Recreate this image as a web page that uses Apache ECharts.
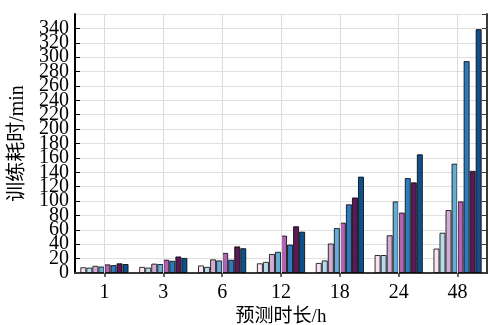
<!DOCTYPE html>
<html>
<head>
<meta charset="utf-8">
<script src="https://cdn.jsdelivr.net/npm/echarts@6/dist/echarts.min.js"></script>
<style>
  html, body { margin: 0; padding: 0; background: #fff; }
  #chart { width: 490px; height: 325px; }
</style>
</head>
<body>
<div id="chart"></div>
<script>
// forecast horizons (h)
const horizons = ['1', '3', '6', '12', '18', '24', '48']

// training time (min) of the eight models
const m1 = [8, 8.5, 10.5, 13.5, 14, 25, 34]
const m2 = [7.5, 7.5, 8.5, 15.5, 17.5, 25, 56]
const m3 = [10, 13, 19, 26.5, 41, 52.5, 87.5]
const m4 = [9, 12.5, 17.5, 29.5, 62.5, 99.5, 152]
const m5 = [12, 18.5, 28, 52, 70, 84, 99.5]
const m6 = [11, 17, 18.5, 39.5, 95.5, 132, 294.5]
const m7 = [13.5, 23, 37, 65, 105, 126, 142]
const m8 = [12.5, 21, 34.5, 57.5, 134, 165, 339]

const models = [m1, m2, m3, m4, m5, m6, m7, m8]
const colors = ['#f7e4f0', '#b7dbeb', '#d4acd4', '#67acd4', '#b064b0', '#2d7bbb', '#5a1a5a', '#10508a']

const yTicks = { min: 0, max: 360, step: 20 }

const serif = '"Liberation Serif", "Noto Sans CJK SC", serif'
const labelFont = { fontFamily: serif, fontSize: 20, color: '#000', margin: 6 }

const chart = echarts.init(document.getElementById('chart'))

const series = models.map((vals, i) => ({
  type: 'bar',
  data: vals,
  xAxisIndex: 0,
  yAxisIndex: 0,
  barGap: '0%',
  barCategoryGap: '18%',
  z: 3,
  itemStyle: {
    color: colors[i],
    borderColor: 'rgba(0,0,0,0.8)',
    borderWidth: 1
  },
  silent: true
}))

// vertical grid lines through the category centres, kept behind the bars
series.push({
  type: 'line',
  data: [],
  xAxisIndex: 0,
  yAxisIndex: 0,
  z: 1,
  silent: true,
  markLine: {
    silent: true,
    symbol: ['none', 'none'],
    label: { show: false },
    lineStyle: { color: '#dcdcdc', type: 'solid', width: 1 },
    data: horizons.map(h => ({ xAxis: h }))
  }
})

const option = {
  animation: false,
  backgroundColor: '#fff',
  grid: { left: 75, right: 3, top: 14, bottom: 52, containLabel: false, outerBoundsMode: 'none' },
  xAxis: [
    {
      type: 'category',
      data: horizons,
      position: 'bottom',
      name: '预测时长/h',
      nameLocation: 'middle',
      nameGap: 32,
      nameTextStyle: { fontFamily: serif, fontSize: 19, color: '#000' },
      axisLine: { lineStyle: { color: '#000', width: 2 } },
      axisTick: { show: false },
      axisLabel: { fontFamily: serif, fontSize: 20, color: '#000', margin: 10 },
      splitLine: { show: false }
    },
    {
      type: 'category',
      data: horizons,
      position: 'top',
      axisLine: { lineStyle: { color: '#3a3a3a', width: 2 } },
      axisTick: { show: true, inside: true, alignWithLabel: true, length: 4, lineStyle: { color: '#3a3a3a', width: 1.5 } },
      axisLabel: { show: false },
      splitLine: { show: false }
    }
  ],
  yAxis: [
    {
      type: 'value',
      min: yTicks.min,
      max: yTicks.max,
      interval: yTicks.step,
      position: 'left',
      name: '训练耗时/min',
      nameLocation: 'middle',
      nameGap: 46,
      nameTextStyle: { fontFamily: serif, fontSize: 20, color: '#000' },
      axisLine: { show: true, lineStyle: { color: '#000', width: 2 } },
      axisTick: { show: true, inside: true, length: 5, lineStyle: { color: '#000', width: 1 } },
      axisLabel: Object.assign({ showMinLabel: false, showMaxLabel: false }, labelFont),
      splitLine: { show: true, lineStyle: { color: '#e0e0e0', width: 1 } }
    },
    {
      type: 'value',
      min: yTicks.min,
      max: yTicks.max,
      interval: yTicks.step,
      position: 'right',
      axisLine: { show: true, lineStyle: { color: '#3a3a3a', width: 2 } },
      axisTick: { show: true, inside: true, length: 5, lineStyle: { color: '#3a3a3a', width: 1 } },
      axisLabel: { show: false },
      splitLine: { show: false }
    },
    {
      // carries only the "0" label, so the tight tick labels above are all kept
      type: 'value',
      min: yTicks.min,
      max: yTicks.max,
      interval: yTicks.max,
      position: 'left',
      axisLine: { show: false },
      axisTick: { show: false },
      axisLabel: Object.assign({ showMinLabel: true, showMaxLabel: false }, labelFont),
      splitLine: { show: false }
    }
  ],
  series: series
}

chart.setOption(option)
</script>
</body>
</html>
